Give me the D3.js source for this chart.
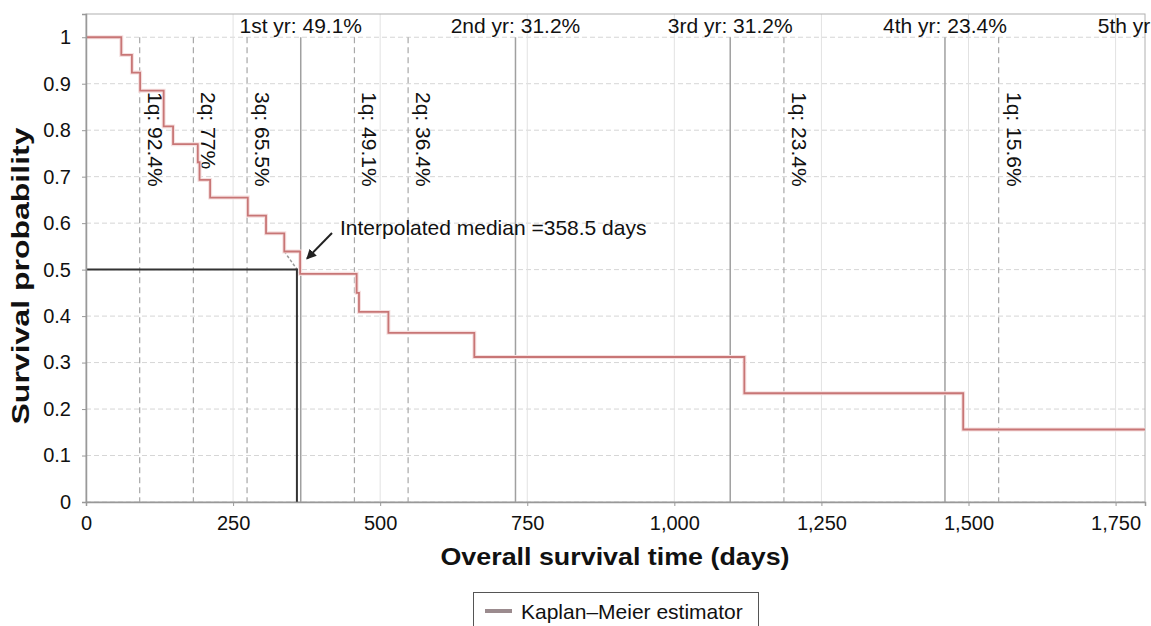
<!DOCTYPE html>
<html>
<head>
<meta charset="utf-8">
<script src="https://cdn.jsdelivr.net/npm/d3@7"></script>
<style>
  body { margin: 0; background: #fff; }
  svg { display: block; font-family: "Liberation Sans", Arial, sans-serif; }
</style>
</head>
<body>
<div id="chart"></div>
<script>
var w = 1151;
var h = 626;

// Kaplan-Meier steps (day, survival)
var kmTimes = [0, 60, 78, 92, 132, 148, 190, 193, 211, 275, 306, 337, 364, 460, 464, 514, 660, 1119, 1491, 1800];
var kmSurv = [1, 0.962, 0.924, 0.885, 0.808, 0.770, 0.731, 0.693, 0.655, 0.616, 0.578, 0.539, 0.491, 0.450, 0.409, 0.364, 0.312, 0.234, 0.156, 0.156];

var yearDays = [365, 730, 1095, 1460, 1825];
var yearLabels = ['1st yr: 49.1%', '2nd yr: 31.2%', '3rd yr: 31.2%', '4th yr: 23.4%', '5th yr: 15.6%'];

var quarterDays = [91.25, 182.5, 273.75, 456.25, 547.5, 1186.25, 1551.25];
var quarterLabels = ['1q: 92.4%', '2q: 77%', '3q: 65.5%', '1q: 49.1%', '2q: 36.4%', '1q: 23.4%', '1q: 15.6%'];

var medianDay = 358.5;
var medianSurv = 0.5;
var interpTimes = [337, 364];
var interpSurv = [0.539, 0.491];

var xTicks = [0, 250, 500, 750, 1000, 1250, 1500, 1750];
var yTicks = [0, 0.1, 0.2, 0.3, 0.4, 0.5, 0.6, 0.7, 0.8, 0.9, 1];

var x = d3.scaleLinear().domain([0, 1800]).range([86, 1145]);
var y = d3.scaleLinear().domain([0, 1.05]).range([502, 14]);

var svg = d3.select('#chart').append('svg')
  .attr('width', w)
  .attr('height', h);

var defs = svg.append('defs');
defs.append('marker')
  .attr('id', 'arrow')
  .attr('viewBox', '0 0 10 10')
  .attr('refX', 9)
  .attr('refY', 5)
  .attr('markerWidth', 5)
  .attr('markerHeight', 5)
  .attr('orient', 'auto')
  .append('path')
  .attr('d', 'M0,0 L10,5 L0,10 z')
  .attr('fill', '#222');

// grid
svg.append('g').selectAll('line')
  .data(yTicks)
  .enter().append('line')
  .attr('x1', x(0)).attr('x2', x(1800))
  .attr('y1', function (d) { return y(d); })
  .attr('y2', function (d) { return y(d); })
  .style('stroke', '#d6d6d6')
  .style('stroke-dasharray', '5,3');

svg.append('g').selectAll('line')
  .data(xTicks.slice(1))
  .enter().append('line')
  .attr('x1', function (d) { return x(d); })
  .attr('x2', function (d) { return x(d); })
  .attr('y1', y(0)).attr('y2', y(1.05))
  .style('stroke', '#e2e2e2');

// plot border
svg.append('rect')
  .attr('x', x(0)).attr('y', y(1.05))
  .attr('width', x(1800) - x(0))
  .attr('height', y(0) - y(1.05))
  .attr('fill', 'none')
  .style('stroke', '#b0b0b0');

// year lines
svg.append('g').selectAll('line')
  .data(yearDays.filter(function (d) { return d <= 1800; }))
  .enter().append('line')
  .attr('x1', function (d) { return x(d); })
  .attr('x2', function (d) { return x(d); })
  .attr('y1', y(1)).attr('y2', y(0))
  .style('stroke', '#a0a0a0')
  .style('stroke-width', 1.5);

svg.append('g').selectAll('text')
  .data(yearDays)
  .enter().append('text')
  .attr('x', function (d) { return x(d); })
  .attr('y', 33)
  .attr('text-anchor', 'middle')
  .style('font-size', '21px')
  .attr('fill', '#111')
  .text(function (d, i) { return yearLabels[i]; });

// quarter lines
svg.append('g').selectAll('line')
  .data(quarterDays)
  .enter().append('line')
  .attr('x1', function (d) { return x(d); })
  .attr('x2', function (d) { return x(d); })
  .attr('y1', y(1)).attr('y2', y(0))
  .style('stroke', '#a8a8a8')
  .style('stroke-width', 1.2)
  .style('stroke-dasharray', '6,4');

svg.append('g').selectAll('text')
  .data(quarterDays)
  .enter().append('text')
  .attr('transform', function (d) {
    return 'translate(' + (x(d) + 8) + ',92) rotate(90)';
  })
  .style('font-size', '21px')
  .attr('fill', '#111')
  .text(function (d, i) { return quarterLabels[i]; });

// interpolation segment
svg.append('line')
  .attr('x1', x(interpTimes[0])).attr('y1', y(interpSurv[0]))
  .attr('x2', x(interpTimes[1])).attr('y2', y(interpSurv[1]))
  .style('stroke', '#999')
  .style('stroke-width', 1.5)
  .style('stroke-dasharray', '3,2');

// median lines
svg.append('path')
  .attr('d', 'M' + x(0) + ',' + y(medianSurv) + 'H' + x(medianDay) + 'V' + y(0))
  .attr('fill', 'none')
  .style('stroke', '#333')
  .style('stroke-width', 2);

// KM curve
var line = d3.line()
  .x(function (d) { return x(d[0]); })
  .y(function (d) { return y(d[1]); })
  .curve(d3.curveStepAfter);

svg.append('path')
  .datum(d3.zip(kmTimes, kmSurv))
  .attr('d', line)
  .attr('fill', 'none')
  .style('stroke', '#f6e0e0')
  .style('stroke-width', 4);

svg.append('path')
  .datum(d3.zip(kmTimes, kmSurv))
  .attr('d', line)
  .attr('fill', 'none')
  .style('stroke', '#c87676')
  .style('stroke-width', 1.8);

// median annotation
svg.append('line')
  .attr('x1', 332).attr('y1', 233)
  .attr('x2', x(medianDay) + 10).attr('y2', y(0.53) + 3)
  .style('stroke', '#222')
  .style('stroke-width', 2)
  .attr('marker-end', 'url(#arrow)');

svg.append('text')
  .attr('x', 340)
  .attr('y', 235)
  .style('font-size', '21px')
  .attr('fill', '#111')
  .text('Interpolated median =' + medianDay + ' days');

// axes
var xAxis = d3.axisBottom(x)
  .tickValues(xTicks)
  .tickSize(4)
  .tickFormat(d3.format(','));

var gx = svg.append('g')
  .attr('transform', 'translate(0,' + y(0) + ')')
  .call(xAxis);
gx.select('.domain').style('stroke', '#999').style('stroke-width', 1.5);
gx.selectAll('.tick line').style('stroke', '#999');
gx.selectAll('.tick text')
  .style('font-size', '20px')
  .style('font-family', '"Liberation Sans", Arial, sans-serif')
  .attr('fill', '#111')
  .attr('dy', '1.05em');

var yAxis = d3.axisLeft(y)
  .tickValues(yTicks)
  .tickSize(4)
  .tickFormat(function (d) { return String(+d.toFixed(1)); });

var gy = svg.append('g')
  .attr('transform', 'translate(' + x(0) + ',0)')
  .call(yAxis);
gy.select('.domain').style('stroke', '#999').style('stroke-width', 1.5);
gy.selectAll('.tick line').style('stroke', '#999');
gy.selectAll('.tick text')
  .style('font-size', '20px')
  .style('font-family', '"Liberation Sans", Arial, sans-serif')
  .attr('fill', '#111')
  .attr('x', -15);

// titles
svg.append('text')
  .attr('x', 615)
  .attr('y', 565)
  .attr('text-anchor', 'middle')
  .attr('textLength', 349)
  .attr('lengthAdjust', 'spacingAndGlyphs')
  .style('font-size', '24px')
  .style('font-weight', 'bold')
  .attr('fill', '#111')
  .text('Overall survival time (days)');

svg.append('text')
  .attr('transform', 'translate(29,276) rotate(-90)')
  .attr('text-anchor', 'middle')
  .attr('textLength', 297)
  .attr('lengthAdjust', 'spacingAndGlyphs')
  .style('font-size', '24px')
  .style('font-weight', 'bold')
  .attr('fill', '#111')
  .text('Survival probability');

// legend
var legend = svg.append('g');
legend.append('rect')
  .attr('x', 473.5).attr('y', 592.5)
  .attr('width', 285).attr('height', 50)
  .attr('fill', '#fff')
  .style('stroke', '#555');
legend.append('line')
  .attr('x1', 485).attr('x2', 512)
  .attr('y1', 611).attr('y2', 611)
  .style('stroke', '#9b8b8e')
  .style('stroke-width', 4);
legend.append('text')
  .attr('x', 521)
  .attr('y', 619)
  .style('font-size', '21px')
  .attr('fill', '#111')
  .text('Kaplan\u2013Meier estimator');
</script>
</body>
</html>
